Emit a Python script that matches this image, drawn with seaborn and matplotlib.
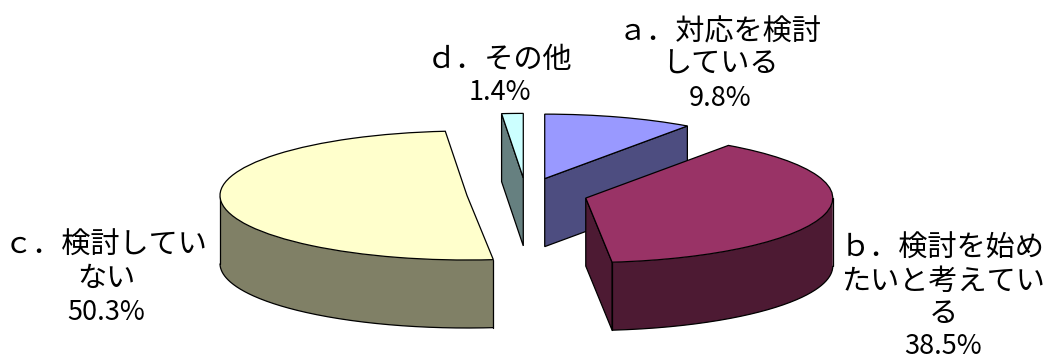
import numpy as np
import matplotlib
matplotlib.use("Agg")
import matplotlib.pyplot as plt
import seaborn as sns

categories = ["ａ．対応を検討\nしている", "ｂ．検討を始め\nたいと考えてい\nる", "ｃ．検討してい\nない", "ｄ．その他"]
values = [9.8, 38.5, 50.3, 1.4]
pct_labels = ["9.8%", "38.5%", "50.3%", "1.4%"]
top_hex = ["#9999FF", "#993366", "#FFFFCC", "#CCFFFF"]
wall_hex = ["#4D4D80", "#4D1A33", "#808066", "#668080"]

sns.set_theme(style="white")
plt.rcParams["font.family"] = ["Noto Sans CJK JP", "DejaVu Sans"]

W, H = 1047, 360
RX, RY, DEPTH = 247.0, 64.5, 68.0
CX, CY = 526.0, 194.0
EXPLODE = [0.25, 0.25, 0.24, 0.25]
LW = 0.9

fig = plt.figure(figsize=(W / 100, H / 100), dpi=100, facecolor="white")
ax = fig.add_axes([0, 0, 1, 1])
top_cols = sns.color_palette(top_hex)
wall_cols = sns.color_palette(wall_hex)

wedges, _ = ax.pie(values, explode=EXPLODE, startangle=90,
                   counterclock=False, colors=top_cols, radius=1.0,
                   wedgeprops=dict(edgecolor="black", linewidth=LW))
ax.set_aspect("auto")
ax.set_xlim(-CX / RX, (W - CX) / RX)
ax.set_ylim((CY - H) / RY, CY / RY)
ax.axis("off")

d = DEPTH / RY
for z, i in enumerate([0, 3, 2, 1]):
    w = wedges[i]
    zo = 10 + 2 * z
    w.set_zorder(zo + 1)
    cx, cy = w.center
    th = np.linspace(w.theta1, w.theta2, 400)
    t = np.radians(th)
    xs, ys = cx + w.r * np.cos(t), cy + w.r * np.sin(t)

    # outer curved wall: only the part that faces the viewer
    front = np.sin(t) < 0
    if front.any():
        fx, fy = xs[front], ys[front]
        ax.fill(np.r_[fx, fx[::-1]], np.r_[fy, fy[::-1] - d],
                facecolor=wall_cols[i], edgecolor="none", zorder=zo)
        ax.plot(fx, fy - d, color="black", lw=LW, zorder=zo + 0.5)
        for px, py in ((fx[0], fy[0]), (fx[-1], fy[-1])):
            ax.plot([px, px], [py, py - d], color="black", lw=LW, zorder=zo + 0.5)

    # flat cut faces: only those whose outward normal points at the viewer
    faces = [(w.theta1, w.theta1 - 90), (w.theta2, w.theta2 + 90)]
    for ang, normal in faces:
        if np.sin(np.radians(normal)) < -1e-6:
            ex = cx + w.r * np.cos(np.radians(ang))
            ey = cy + w.r * np.sin(np.radians(ang))
            qx = [cx, ex, ex, cx]
            qy = [cy, ey, ey - d, cy - d]
            ax.fill(qx, qy, facecolor=wall_cols[i], edgecolor="black", lw=LW, zorder=zo)

label_xy = [(720, 32, 33), (943, 249, 32.5), (106, 246, 33), (500, 60, 33)]
FS = 21
for name, pct, (x, y0, pitch) in zip(categories, pct_labels, label_xy):
    lines = name.split("\n") + [pct]
    for k, line in enumerate(lines):
        is_pct = k == len(lines) - 1
        ax.text(x / W, 1 - (y0 + k * pitch) / H, line, transform=ax.transAxes,
                ha="center", va="center", fontsize=FS - (1.5 if is_pct else 0),
                color="black", zorder=50)

fig.savefig("out.png", dpi=100, facecolor="white")
